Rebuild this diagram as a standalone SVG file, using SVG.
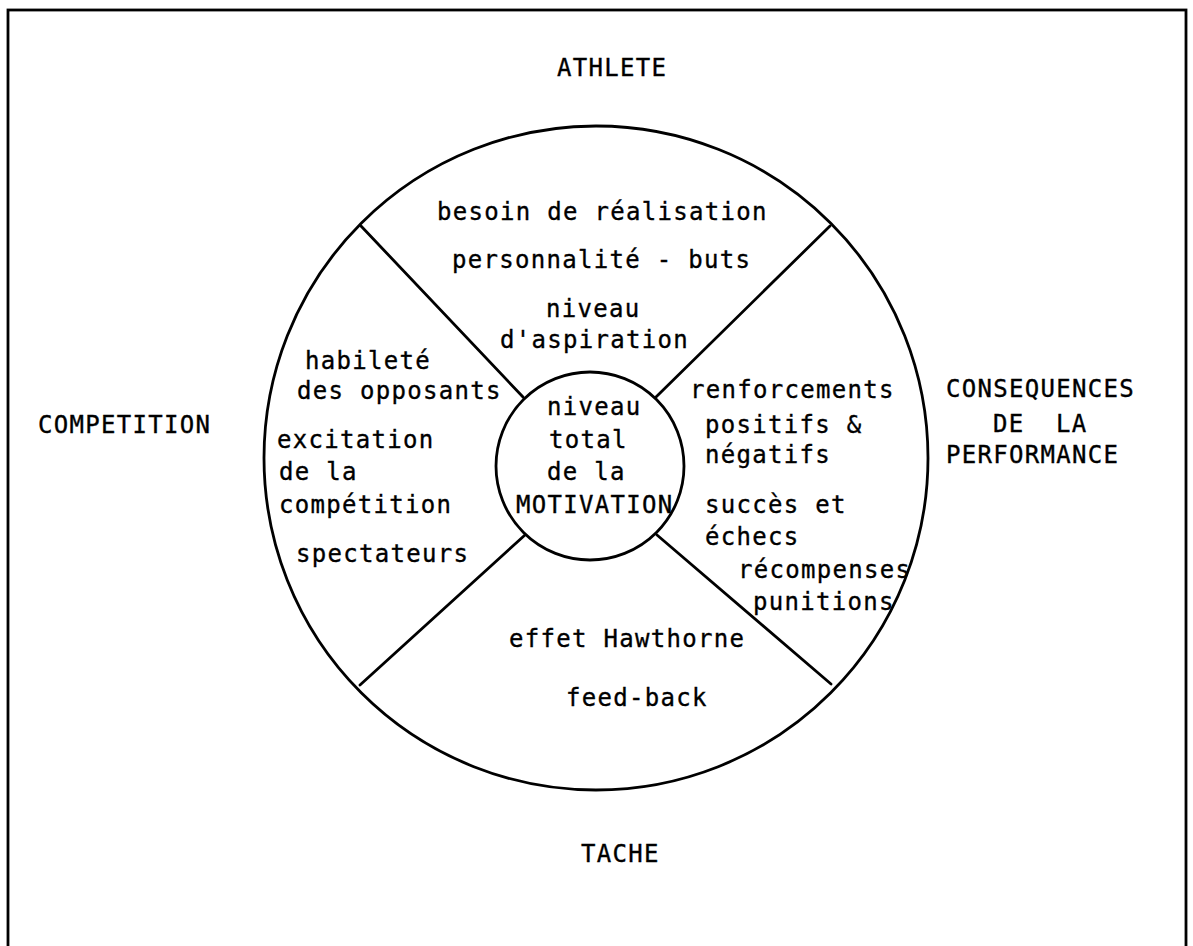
<svg xmlns="http://www.w3.org/2000/svg" width="1193" height="946" viewBox="0 0 1193 946">
  <style>
    .ln { fill: none; stroke: #000; stroke-width: 2.8; stroke-linecap: round; }
    text { font-family: "DejaVu Sans Mono", "Liberation Mono", monospace; font-size: 24px; letter-spacing: 1.3px; fill: #000; stroke: #000; stroke-width: 0.35; }
  </style>
  <rect width="1193" height="946" fill="#fff"/>

  <!-- outer frame (bottom edge runs past the page) -->
  <rect id="frame" class="ln" x="8" y="10" width="1178" height="960"/>

  <!-- wheel: outer ring and spokes -->
  <g id="connectors">
    <circle class="ln" cx="596" cy="458" r="332"/>
    <line class="ln" x1="523" y1="397" x2="361" y2="226"/>
    <line class="ln" x1="656" y1="397" x2="830" y2="226"/>
    <line class="ln" x1="525" y1="535" x2="360" y2="685"/>
    <line class="ln" x1="657" y1="535" x2="831" y2="684"/>
  </g>

  <!-- hub -->
  <g id="hub">
    <circle class="ln" cx="590" cy="466" r="94" fill="#fff"/>
    <text x="547" y="415">niveau</text>
    <text x="549" y="448">total</text>
    <text x="547" y="480">de la</text>
    <text x="516" y="513">MOTIVATION</text>
  </g>

  <!-- top sector: athlete -->
  <g id="athlete">
    <text x="557" y="76">ATHLETE</text>
    <text x="437" y="220">besoin de réalisation</text>
    <text x="452" y="268">personnalité - buts</text>
    <text x="546" y="317">niveau</text>
    <text x="500" y="348">d'aspiration</text>
  </g>

  <!-- left sector: competition -->
  <g id="competition">
    <text x="38" y="433">COMPETITION</text>
    <text x="305" y="369">habileté</text>
    <text x="297" y="399">des opposants</text>
    <text x="277" y="448">excitation</text>
    <text x="279" y="480">de la</text>
    <text x="279" y="513">compétition</text>
    <text x="296" y="562">spectateurs</text>
  </g>

  <!-- right sector: consequences of performance -->
  <g id="consequences">
    <text x="946" y="397">CONSEQUENCES</text>
    <text x="993" y="432" xml:space="preserve">DE  LA</text>
    <text x="946" y="463">PERFORMANCE</text>
    <text x="690" y="398">renforcements</text>
    <text x="705" y="433">positifs &amp;</text>
    <text x="705" y="463">négatifs</text>
    <text x="705" y="513">succès et</text>
    <text x="705" y="545">échecs</text>
    <text x="738" y="578">récompenses</text>
    <text x="753" y="610">punitions</text>
  </g>

  <!-- bottom sector: task -->
  <g id="tache">
    <text x="509" y="647">effet Hawthorne</text>
    <text x="566" y="706">feed-back</text>
    <text x="581" y="862">TACHE</text>
  </g>
</svg>
